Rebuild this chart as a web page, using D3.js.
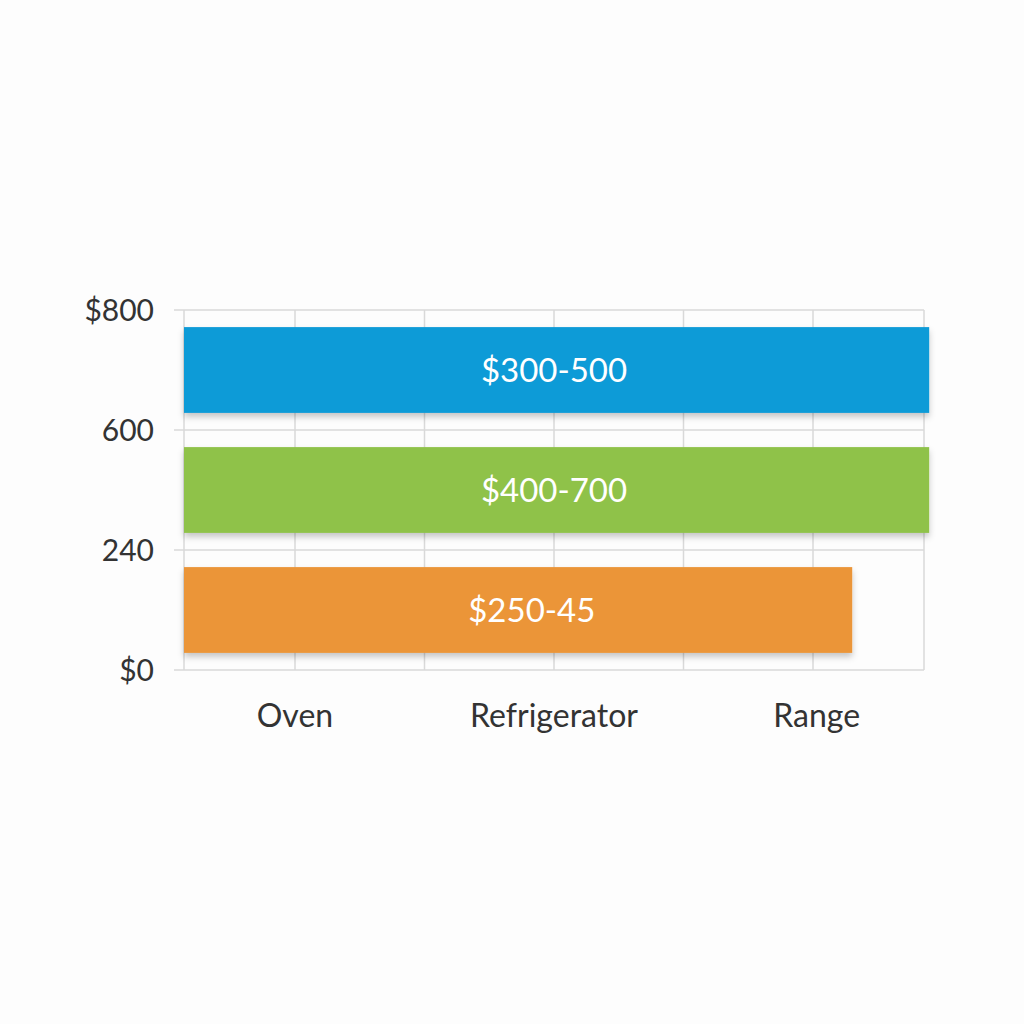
<!DOCTYPE html>
<html>
<head>
<meta charset="utf-8">
<script src="https://cdn.jsdelivr.net/npm/d3@7"></script>
<style>
  html, body { margin: 0; padding: 0; background: #fdfdfd; }
  svg { display: block; }
  text { font-family: Lato, "Open Sans", sans-serif; }
</style>
</head>
<body>
<div id="chart"></div>
<script>
// y-axis tick labels, top to bottom
var yTicks = ["$800", "600", "240", "$0"];
// bars, top to bottom
var barNames = ["oven", "refrigerator", "range"];
var barLabels = ["$300-500", "$400-700", "$250-45"];
var barValues = [100.7, 100.7, 90.3];
var labelPos = [50, 50, 47];
var barColors = ["#0a9bd7", "#8fc249", "#eb9537"];
// x categories and their positions on the 0-100 scale
var categories = ["Oven", "Refrigerator", "Range"];
var categoryPos = [15, 50, 85.5];
var gridPos = [15, 32.5, 50, 67.5, 85];

var W = 1024, H = 1024;
var mLeft = 184, mRight = 924, mTop = 310, mBottom = 670;

var svg = d3.select("#chart").append("svg")
    .attr("width", W)
    .attr("height", H);

svg.append("rect").attr("width", W).attr("height", H).attr("fill", "#fdfdfd");

var defs = svg.append("defs");
var f = defs.append("filter").attr("id", "shadow")
    .attr("x", "-5%").attr("y", "-20%").attr("width", "110%").attr("height", "150%");
f.append("feDropShadow")
    .attr("dx", 0).attr("dy", 4).attr("stdDeviation", 3)
    .attr("flood-color", "#000").attr("flood-opacity", 0.22);

var x = d3.scaleLinear().domain([0, 100]).range([mLeft, mRight]);
var yTick = d3.scalePoint().domain(yTicks).range([mTop, mBottom]);
var yBar = d3.scaleBand().domain(barNames).range([mTop, mBottom])
    .paddingInner(0.285).paddingOuter(0.1425);

// horizontal grid + y labels
svg.append("g").selectAll("line").data(yTicks).join("line")
    .attr("x1", mLeft - 10).attr("x2", mRight)
    .attr("y1", d => yTick(d)).attr("y2", d => yTick(d))
    .attr("stroke", "#d9d9d9").attr("stroke-width", 1.5);

svg.append("g").selectAll("text").data(yTicks).join("text")
    .attr("x", 154)
    .attr("y", d => yTick(d))
    .attr("dy", "0.36em")
    .attr("text-anchor", "end")
    .attr("font-size", 30)
    .attr("fill", "#333")
    .text(d => d);

// vertical grid
svg.append("g").selectAll("line").data([0].concat(gridPos, [100])).join("line")
    .attr("x1", d => x(d)).attr("x2", d => x(d))
    .attr("y1", mTop).attr("y2", mBottom)
    .attr("stroke", "#d9d9d9").attr("stroke-width", 1.5);

// bars
var bars = barNames.map(function (n, i) {
    return { name: n, value: barValues[i], label: barLabels[i], color: barColors[i], lx: labelPos[i] };
});

svg.append("g").selectAll("rect").data(bars).join("rect")
    .attr("x", x(0))
    .attr("y", d => yBar(d.name))
    .attr("width", d => x(d.value) - x(0))
    .attr("height", yBar.bandwidth())
    .attr("fill", d => d.color)
    .attr("filter", "url(#shadow)");

svg.append("g").selectAll("text").data(bars).join("text")
    .attr("x", d => x(d.lx))
    .attr("y", d => yBar(d.name) + yBar.bandwidth() / 2)
    .attr("dy", "0.36em")
    .attr("text-anchor", "middle")
    .attr("font-size", 33)
    .attr("fill", "#fff")
    .text(d => d.label);

// x category labels
svg.append("g").selectAll("text").data(categories).join("text")
    .attr("x", (d, i) => x(categoryPos[i]))
    .attr("y", 727)
    .attr("text-anchor", "middle")
    .attr("font-size", 32)
    .attr("fill", "#333")
    .text(d => d);
</script>
</body>
</html>
